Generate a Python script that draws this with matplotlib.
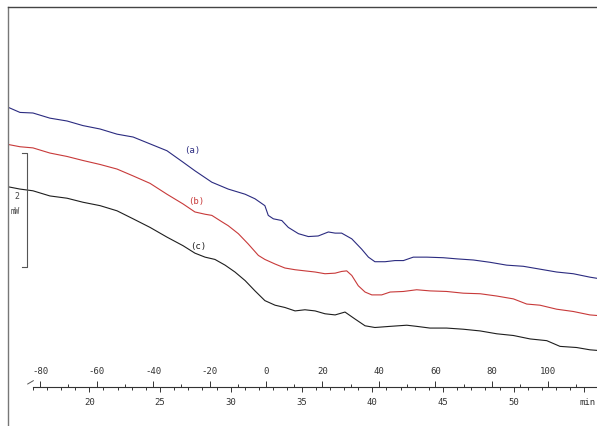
import matplotlib
matplotlib.use("Agg")
import matplotlib.pyplot as plt
from matplotlib.ticker import FixedLocator
from matplotlib.lines import Line2D

# DSC curves, heat flow (mW, arbitrary offset) against temperature (deg C)
temp_a = [-91.4, -87.2, -82.6, -76.6, -70.5, -64.9, -58.8, -52.8, -47.1, -41.1,
          -35.1, -29.4, -25.2, -23.4, -19.2, -13.4, -7.4, -3.9, -0.4, 0.8,
          2.6, 5.6, 7.9, 11.5, 15.0, 18.5, 22.1, 24.5, 26.8, 30.4,
          33.9, 36.3, 38.6, 42.2, 45.7, 48.7, 52.2, 57.0, 62.8, 67.6,
          73.5, 79.4, 85.3, 91.2, 97.1, 103.0, 108.9, 114.8, 117.3]
flow_a = [4.89, 4.80, 4.79, 4.70, 4.65, 4.57, 4.51, 4.42, 4.37, 4.25,
          4.13, 3.93, 3.78, 3.72, 3.58, 3.46, 3.37, 3.29, 3.17, 3.00,
          2.94, 2.91, 2.79, 2.68, 2.63, 2.64, 2.71, 2.69, 2.69, 2.59,
          2.41, 2.27, 2.19, 2.19, 2.21, 2.21, 2.27, 2.27, 2.26, 2.24,
          2.22, 2.18, 2.13, 2.11, 2.06, 2.01, 1.98, 1.92, 1.90]

temp_b = [-91.4, -87.2, -82.6, -76.6, -70.5, -64.9, -58.8, -52.8, -47.1, -41.1,
          -35.1, -29.4, -25.2, -21.6, -19.2, -15.7, -13.4, -9.8, -6.3, -2.7,
          -0.4, 3.2, 6.7, 10.3, 13.8, 17.4, 20.9, 24.5, 26.8, 28.6,
          30.4, 32.7, 35.1, 37.5, 41.0, 44.0, 48.7, 53.4, 58.1, 64.0,
          69.9, 75.9, 81.8, 87.7, 92.4, 97.1, 103.0, 108.9, 114.8, 117.3]
flow_b = [4.24, 4.20, 4.18, 4.09, 4.03, 3.96, 3.89, 3.81, 3.69, 3.56,
          3.37, 3.20, 3.06, 3.02, 3.00, 2.89, 2.82, 2.68, 2.50, 2.30,
          2.23, 2.15, 2.08, 2.05, 2.03, 2.01, 1.98, 1.99, 2.02, 2.03,
          1.95, 1.77, 1.66, 1.61, 1.61, 1.66, 1.67, 1.70, 1.68, 1.67,
          1.64, 1.63, 1.59, 1.54, 1.45, 1.43, 1.36, 1.32, 1.26, 1.25]

temp_c = [-91.4, -87.2, -82.6, -76.6, -70.5, -64.9, -58.8, -52.8, -47.1, -41.1,
          -35.1, -29.4, -25.2, -21.6, -18.1, -14.5, -11.0, -7.4, -3.9, -0.4,
          3.2, 6.7, 10.3, 13.8, 17.4, 20.9, 24.5, 28.0, 31.5, 35.1,
          38.6, 44.0, 49.9, 53.4, 58.1, 64.0, 69.9, 75.9, 81.8, 87.7,
          93.6, 99.5, 104.2, 110.1, 114.8, 117.3]
flow_c = [3.50, 3.46, 3.43, 3.34, 3.30, 3.23, 3.17, 3.08, 2.94, 2.79,
          2.62, 2.47, 2.34, 2.27, 2.23, 2.13, 2.01, 1.86, 1.68, 1.51,
          1.43, 1.39, 1.33, 1.35, 1.33, 1.28, 1.26, 1.31, 1.19, 1.07,
          1.04, 1.06, 1.08, 1.06, 1.03, 1.03, 1.01, 0.98, 0.93, 0.90,
          0.84, 0.81, 0.71, 0.69, 0.65, 0.64]

temp_ticks = [-80, -60, -40, -20, 0, 20, 40, 60, 80, 100]
temp_minor = [-70, -50, -30, -10, 10, 30, 50, 70, 90, 110]
time_ticks = [20, 25, 30, 35, 40, 45, 50, 55]
time_labels = ["20", "25", "30", "35", "40", "45", "50", ""]
time_minor = list(range(16, 56))

scale_mw = 2        # height of the scale bar
scale_base = 2.09   # where the bar starts
rate = 5.014        # heating rate, deg C per min
t_zero = 32.49      # time (min) at 0 deg C

def temp_to_min(T):
    return t_zero + T / rate

def min_to_temp(t):
    return (t - t_zero) * rate

plt.rcParams['font.family'] = ['DejaVu Sans Mono']
plt.rcParams['axes.unicode_minus'] = False

fig = plt.figure(figsize=(5.97, 4.27), dpi=100)
ax = fig.add_axes([8 / 597, 0, 1 - 8 / 597, 1 - 8 / 427])

ax.plot(temp_a, flow_a, color='#2b2b80', lw=0.8)
ax.plot(temp_b, flow_b, color='#c83a3a', lw=0.8)
ax.plot(temp_c, flow_c, color='#1e1e1e', lw=0.8)

ax.text(-26.0, 4.16, "(a)", color='#2b2b80', fontsize=6.5, ha='center', va='center')
ax.text(-24.6, 3.26, "(b)", color='#c83a3a', fontsize=6.5, ha='center', va='center')
ax.text(-24.0, 2.47, "(c)", color='#1e1e1e', fontsize=6.5, ha='center', va='center')

# scale bar
bx, bw = -84.8, 1.6
ax.plot([bx - bw, bx, bx, bx - bw],
        [scale_base + scale_mw, scale_base + scale_mw, scale_base, scale_base],
        color='#555555', lw=0.8)
ax.text(-88.4, scale_base + 1.25, str(scale_mw), fontsize=6, color='#444444',
        ha='center', va='center')
ax.text(-89.0, scale_base + 1.0, "mW", fontsize=5.5, color='#444444',
        ha='center', va='center')

ax.set_xlim(-91.44, 117.31)
ax.set_ylim(-0.682, 6.643)
ax.set_xticks([])
ax.set_yticks([])
ax.spines['right'].set_visible(False)
ax.spines['bottom'].set_visible(False)
ax.spines['left'].set_color('#777777')
ax.spines['top'].set_color('#444444')
ax.spines['left'].set_linewidth(1.0)
ax.spines['top'].set_linewidth(1.0)

# axis line with a little break mark at its start
ax.axhline(0, xmin=25 / 589, xmax=1, color='#333333', lw=0.8)
ax.add_line(Line2D([19.7 / 589, 25.3 / 589], [42 / 419, 45.3 / 419],
                   transform=ax.transAxes, color='#555555', lw=0.7))

loc = 39 / 419

top = ax.secondary_xaxis(loc)
top.set_alignment('top')
top.set_xticks(temp_ticks)
top.xaxis.set_minor_locator(FixedLocator(temp_minor))
top.tick_params(which='major', length=4.3, width=0.7, pad=4.5,
                labelsize=6.5, colors='#333333')
top.tick_params(which='minor', length=2.5, width=0.7, colors='#333333')
for s in top.spines.values():
    s.set_visible(False)

bot = ax.secondary_xaxis(loc, functions=(temp_to_min, min_to_temp))
bot.set_xticks(time_ticks, labels=time_labels)
bot.xaxis.set_minor_locator(FixedLocator(time_minor))
bot.tick_params(which='major', length=3.6, width=0.7, pad=3.5,
                labelsize=6.5, colors='#333333')
bot.tick_params(which='minor', length=2.5, width=0.7, colors='#333333')
for s in bot.spines.values():
    s.set_visible(False)

ax.text(572 / 589, 24.3 / 419, "min", transform=ax.transAxes, fontsize=6.5,
        color='#333333', ha='left', va='center')

fig.savefig("out.png", dpi=100)
